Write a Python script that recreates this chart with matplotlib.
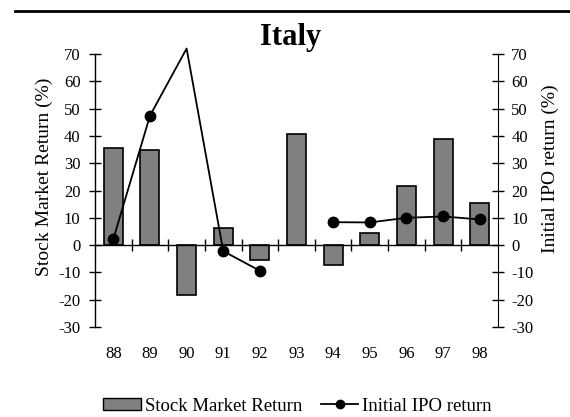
"""Italy: stock market return vs initial IPO return."""

import matplotlib

matplotlib.use("Agg")
import matplotlib.pyplot as plt
import numpy as np
from matplotlib.lines import Line2D
from matplotlib.patches import Patch

plt.rcParams.update(
    {
        "font.family": "serif",
        "font.serif": ["Liberation Serif", "DejaVu Serif"],
        "font.size": 12,
        "axes.unicode_minus": False,
    }
)

years = ["88", "89", "90", "91", "92", "93", "94", "95", "96", "97", "98"]
stock_return = [35.5, 34.8, -18.1, 6.2, -5.6, 40.6, -7.2, 4.6, 21.5, 39.0, 15.6]
ipo_return = [2.2, 47.4, 72.0, -2.2, -9.4, np.nan, 8.4, 8.3, 10.0, 10.5, 9.4]

BAR_COLOR = "#808080"
Y_MIN, Y_MAX = -30, 70

fig = plt.figure(figsize=(5.7, 4.17), dpi=100)
ax = fig.add_axes([0.1667, 0.2158, 0.7070, 0.6547])

x = np.arange(len(years))
ipo = np.array(ipo_return, dtype=float)

ax.bar(x, stock_return, width=0.52, color=BAR_COLOR, edgecolor="black", linewidth=1.2, zorder=2)
# line runs past the top of the axis, marker beyond the range is hidden
ax.plot(x, ipo, color="black", linewidth=1.3, clip_on=False, zorder=3)
ax.plot(x, np.where(ipo <= Y_MAX, ipo, np.nan), "o", color="black", markersize=7.5, zorder=4)

ax.set_xlim(-0.5, len(years) - 0.5)
ax.set_ylim(Y_MIN, Y_MAX)
ax.set_yticks(np.arange(Y_MIN, Y_MAX + 1, 10))
ax.set_ylabel("Stock Market Return (%)", fontsize=14, labelpad=4)
ax.yaxis.label.set_y(0.55)

ax.spines["top"].set_visible(False)
ax.spines["right"].set_visible(False)
ax.spines["bottom"].set_position(("data", 0))
ax.spines["left"].set_linewidth(1.0)
ax.spines["bottom"].set_linewidth(1.0)

# category boundary ticks crossing the zero line
ax.set_xticks(x[:-1] + 0.5)
ax.set_xticklabels([])
ax.tick_params(axis="x", direction="inout", length=9, width=1.0)
ax.tick_params(axis="y", direction="inout", length=9, width=1.0, pad=6)

# category labels along the bottom
sec = ax.secondary_xaxis("bottom")
sec.spines["bottom"].set_visible(False)
sec.set_xticks(x)
sec.set_xticklabels(years)
sec.tick_params(length=0, pad=14)

ax2 = ax.twinx()
ax2.set_ylim(Y_MIN, Y_MAX)
ax2.set_yticks(np.arange(Y_MIN, Y_MAX + 1, 10))
ax2.set_ylabel("Initial IPO return (%)", fontsize=14, labelpad=6)
ax2.yaxis.label.set_y(0.58)
for side in ["top", "left", "bottom"]:
    ax2.spines[side].set_visible(False)
ax2.tick_params(axis="y", direction="inout", length=9, width=1.0, pad=5)

fig.text(0.509, 0.892, "Italy", ha="center", va="baseline", fontsize=22, fontweight="bold")
fig.add_artist(Line2D([0.026, 1.0], [0.974, 0.974], color="black", linewidth=2.0))

handles = [
    Patch(facecolor=BAR_COLOR, edgecolor="black", linewidth=1.0),
    Line2D([], [], color="black", linewidth=1.3, marker="o", markersize=6),
]
fig.legend(
    handles,
    ["Stock Market Return", "Initial IPO return"],
    loc="center",
    bbox_to_anchor=(0.522, 0.026),
    ncol=2,
    frameon=False,
    fontsize=13.5,
    handlelength=2.0,
    handleheight=0.6,
    handletextpad=0.2,
    columnspacing=1.0,
)

fig.savefig("out.png", dpi=100)
